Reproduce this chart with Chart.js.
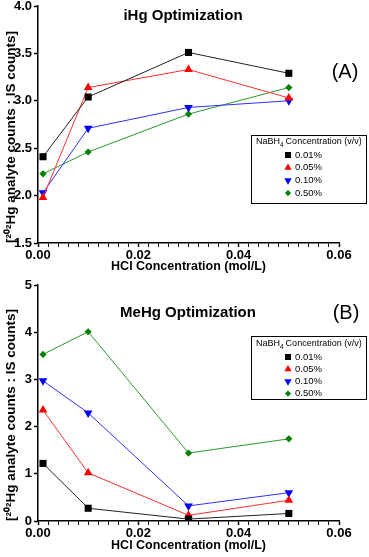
<!DOCTYPE html>
<html>
<head>
<meta charset="utf-8">
<script src="https://cdn.jsdelivr.net/npm/chart.js@4.4.1/dist/chart.umd.min.js"></script>
<style>
  body { margin: 0; background: #fff; }
  canvas { display: block; }
</style>
</head>
<body>
<canvas id="ihgChart" width="369" height="278"></canvas>
<canvas id="mehgChart" width="369" height="279"></canvas>
<script>
// HCl concentrations (mol/L) on the x axis
const hclConc = [0.001, 0.01, 0.03, 0.05];
const seriesLabels = ['0.01%', '0.05%', '0.10%', '0.50%'];

// iHg optimization
const ihg001 = [2.41, 3.04, 3.51, 3.29];
const ihg005 = [1.98, 3.14, 3.33, 3.03];
const ihg010 = [2.03, 2.71, 2.93, 3.00];
const ihg050 = [2.23, 2.46, 2.86, 3.14];

// MeHg optimization
const mehg001 = [1.22, 0.27, 0.04, 0.16];
const mehg005 = [2.35, 1.02, 0.12, 0.44];
const mehg010 = [2.97, 2.29, 0.32, 0.60];
const mehg050 = [3.53, 4.01, 1.44, 1.74];

const FONT = "'Liberation Sans', Arial, sans-serif";
const colors = ['#000000', '#ff0000', '#0000ff', '#008000'];
const lineColors = ['#222222', '#ff3030', '#3030ff', '#2a9a2a'];
const styles = [
    { pointStyle: 'rect', pointRadius: 5, pointRotation: 0 },
    { pointStyle: 'triangle', pointRadius: 5, pointRotation: 0 },
    { pointStyle: 'triangle', pointRadius: 5, pointRotation: 180 },
    { pointStyle: 'rectRot', pointRadius: 3.6, pointRotation: 0 }
];

function makeDatasets(seriesList) {
    return seriesList.map((vals, i) => ({
        label: seriesLabels[i],
        data: hclConc.map((x, j) => ({ x: x, y: vals[j] })),
        borderColor: lineColors[i],
        borderWidth: 1,
        backgroundColor: colors[i],
        pointBackgroundColor: colors[i],
        pointBorderWidth: 0,
        pointStyle: styles[i].pointStyle,
        pointRadius: styles[i].pointRadius,
        pointRotation: styles[i].pointRotation,
        tension: 0
    }));
}

// Boxed legend, title text and panel letter drawn inside the plot
const panelDecor = {
    id: 'panelDecor',
    afterDraw(chart, args, opts) {
        const ctx = chart.ctx;
        ctx.save();
        ctx.fillStyle = '#000';
        ctx.textBaseline = 'middle';

        ctx.textAlign = 'center';
        ctx.font = `bold 15px ${FONT}`;
        ctx.fillText(opts.title, opts.titleX, opts.titleY);
        ctx.font = `20px ${FONT}`;
        ctx.fillText(opts.letter, opts.letterX, opts.letterY);

        const lg = opts.legend;
        ctx.strokeStyle = '#000';
        ctx.lineWidth = 1;
        ctx.strokeRect(lg.x + 0.5, lg.y + 0.5, lg.w, lg.h);

        ctx.textAlign = 'left';
        let tx = lg.x + 5;
        const ty = lg.y + lg.titleDy;
        ctx.font = `9px ${FONT}`;
        ctx.fillText('NaBH', tx, ty);
        tx += ctx.measureText('NaBH').width;
        ctx.font = `6.5px ${FONT}`;
        ctx.fillText('4', tx, ty + 3);
        tx += ctx.measureText('4').width + 2;
        ctx.font = `9px ${FONT}`;
        ctx.fillText('Concentration (v/v)', tx, ty);

        ctx.font = `9.5px ${FONT}`;
        chart.data.datasets.forEach((ds, i) => {
            const y = lg.y + lg.firstRow + i * lg.rowStep;
            ctx.fillStyle = ds.pointBackgroundColor;
            Chart.helpers.drawPoint(ctx, {
                pointStyle: ds.pointStyle,
                radius: ds.pointRadius * 0.85,
                rotation: ds.pointRotation,
                borderWidth: 0
            }, lg.markerX, y);
            ctx.fillStyle = '#000';
            ctx.fillText(ds.label, lg.markerX + 7, y);
        });
        ctx.restore();
    }
};

function makeChart(id, seriesList, yMin, yMax, yStep, yDigits, decor, xHeight) {
    const ctx = document.getElementById(id).getContext('2d');
    return new Chart(ctx, {
        type: 'line',
        data: { datasets: makeDatasets(seriesList) },
        plugins: [panelDecor],
        options: {
            responsive: false,
            animation: false,
            layout: { padding: { top: decor.top, right: 30, left: 0, bottom: 0 } },
            plugins: {
                legend: { display: false },
                tooltip: { enabled: false },
                panelDecor: decor
            },
            scales: {
                x: {
                    type: 'linear',
                    min: 0,
                    max: 0.06,
                    grid: { drawOnChartArea: false, drawTicks: true, tickLength: 4, color: '#000',
                        tickWidth: c => (Math.round(c.tick.value * 1000) % 20 === 0 ? 1.5 : 1) },
                    border: { display: true, color: '#000', width: 1.5 },
                    ticks: {
                        stepSize: 0.002,
                        autoSkip: false,
                        maxRotation: 0,
                        padding: 1,
                        color: '#000',
                        font: { family: FONT, size: 13, weight: 'bold' },
                        callback: v => (Math.round(v * 1000) % 20 === 0 ? v.toFixed(2) : '')
                    },
                    title: {
                        display: true,
                        text: 'HCl Concentration (mol/L)',
                        color: '#000',
                        font: { family: FONT, size: 12.5, weight: 'bold' },
                        padding: { top: 1, bottom: 4 }
                    },
                    afterFit: s => { s.height = xHeight; s.paddingLeft = 0; s.paddingRight = 0; }
                },
                y: {
                    min: yMin,
                    max: yMax,
                    grid: { drawOnChartArea: false, drawTicks: true, tickLength: 4, color: '#000', tickWidth: 1.5 },
                    border: { display: true, color: '#000', width: 1.5 },
                    ticks: {
                        stepSize: yStep,
                        padding: 2,
                        color: '#000',
                        font: { family: FONT, size: 13, weight: 'bold' },
                        callback: v => v.toFixed(yDigits)
                    },
                    title: {
                        display: true,
                        align: 'start',
                        text: '[\u00B2\u2070\u00B2Hg analyte counts : IS counts]',
                        color: '#000',
                        font: { family: FONT, size: 13.5, weight: 'bold' },
                        padding: { top: 3, bottom: 2 }
                    },
                    afterFit: s => { s.width = 38; s.paddingTop = 0; s.paddingBottom = 0; }
                }
            }
        }
    });
}

makeChart('ihgChart', [ihg001, ihg005, ihg010, ihg050], 1.5, 4.0, 0.5, 1, {
    top: 6,
    title: 'iHg Optimization', titleX: 183, titleY: 16,
    letter: '(A)', letterX: 345, letterY: 72,
    legend: { x: 251, y: 135, w: 115, h: 68, titleDy: 7, firstRow: 20, rowStep: 12.7, markerX: 288 }
}, 35);

makeChart('mehgChart', [mehg001, mehg005, mehg010, mehg050], 0, 5, 1, 0, {
    top: 7,
    title: 'MeHg Optimization', titleX: 188, titleY: 35,
    letter: '(B)', letterX: 346, letterY: 35,
    legend: { x: 251, y: 58, w: 115, h: 63, titleDy: 8, firstRow: 21, rowStep: 12.2, markerX: 288 }
}, 36);
</script>
</body>
</html>
